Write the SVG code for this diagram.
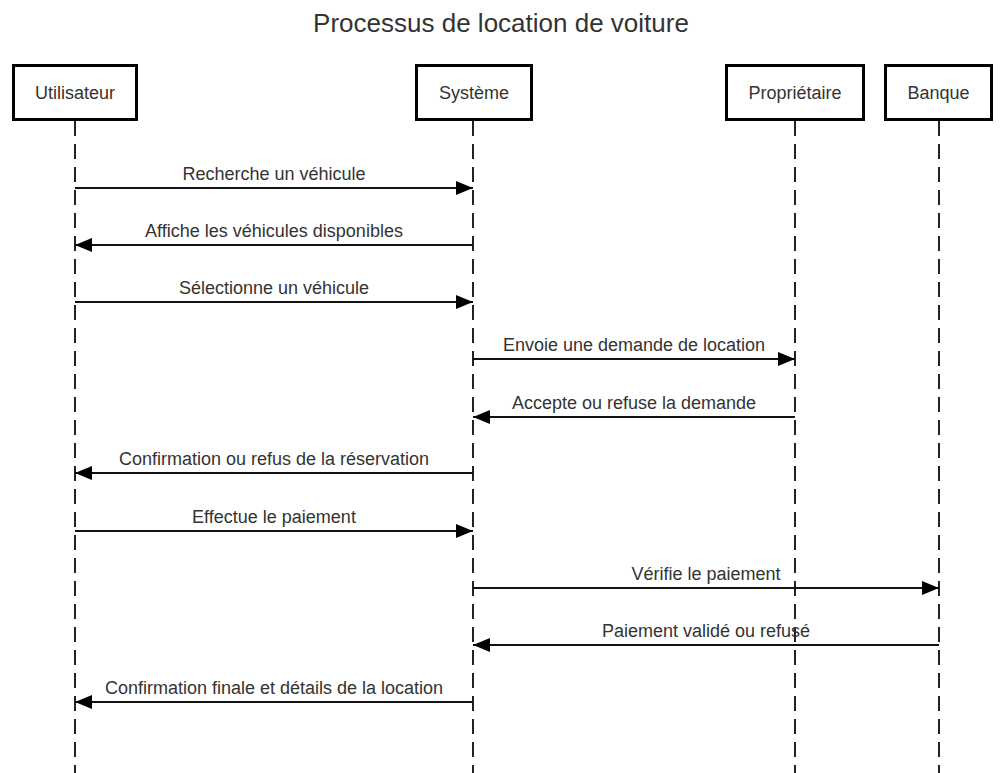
<svg xmlns="http://www.w3.org/2000/svg" width="1002" height="773" viewBox="0 0 1002 773">
<style>
.box{fill:#fff;stroke:#000;stroke-width:3}
.life{stroke:#222;stroke-width:2;stroke-dasharray:15 8;fill:none}
.msg{stroke:#111;stroke-width:2;fill:none;marker-end:url(#ah)}
.lbl{font-family:"Liberation Sans",Arial,sans-serif;font-size:18px;fill:#333;text-anchor:middle}
.title{font-family:"Liberation Sans",Arial,sans-serif;font-size:26px;fill:#333;text-anchor:middle}
</style>
<defs>
<marker id="ah" markerUnits="userSpaceOnUse" markerWidth="18" markerHeight="16" refX="17" refY="7" orient="auto">
<path d="M0,0 L17,7 L0,14 Z" fill="#000"/>
</marker>
</defs>
<rect width="1002" height="773" fill="#fff"/>
<text class="title" x="501" y="32">Processus de location de voiture</text>
<g id="lifelines">
<line class="life" x1="75" y1="121" x2="75" y2="773"/>
<line class="life" x1="473" y1="121" x2="473" y2="773"/>
<line class="life" x1="795" y1="121" x2="795" y2="773"/>
<line class="life" x1="939" y1="121" x2="939" y2="773"/>
</g>
<g id="utilisateur"><rect class="box" x="13.5" y="65.5" width="123" height="54"/><text class="lbl" x="75" y="99">Utilisateur</text></g>
<g id="systeme"><rect class="box" x="416.5" y="65.5" width="115" height="54"/><text class="lbl" x="474" y="99">Système</text></g>
<g id="proprietaire"><rect class="box" x="726.5" y="65.5" width="137" height="54"/><text class="lbl" x="795" y="99">Propriétaire</text></g>
<g id="banque"><rect class="box" x="885.5" y="65.5" width="106" height="54"/><text class="lbl" x="938.5" y="99">Banque</text></g>
<g id="connectors">
<line class="msg" x1="75" y1="188" x2="473" y2="188"/>
<text class="lbl" x="274" y="180">Recherche un véhicule</text>
<line class="msg" x1="473" y1="245" x2="75" y2="245"/>
<text class="lbl" x="274" y="237">Affiche les véhicules disponibles</text>
<line class="msg" x1="75" y1="302" x2="473" y2="302"/>
<text class="lbl" x="274" y="294">Sélectionne un véhicule</text>
<line class="msg" x1="473" y1="359" x2="795" y2="359"/>
<text class="lbl" x="634" y="351">Envoie une demande de location</text>
<line class="msg" x1="795" y1="417" x2="473" y2="417"/>
<text class="lbl" x="634" y="409">Accepte ou refuse la demande</text>
<line class="msg" x1="473" y1="473" x2="75" y2="473"/>
<text class="lbl" x="274" y="465">Confirmation ou refus de la réservation</text>
<line class="msg" x1="75" y1="531" x2="473" y2="531"/>
<text class="lbl" x="274" y="523">Effectue le paiement</text>
<line class="msg" x1="473" y1="588" x2="939" y2="588"/>
<text class="lbl" x="706" y="580">Vérifie le paiement</text>
<line class="msg" x1="939" y1="645" x2="473" y2="645"/>
<text class="lbl" x="706" y="637">Paiement validé ou refusé</text>
<line class="msg" x1="473" y1="702" x2="75" y2="702"/>
<text class="lbl" x="274" y="694">Confirmation finale et détails de la location</text>
</g>
</svg>
